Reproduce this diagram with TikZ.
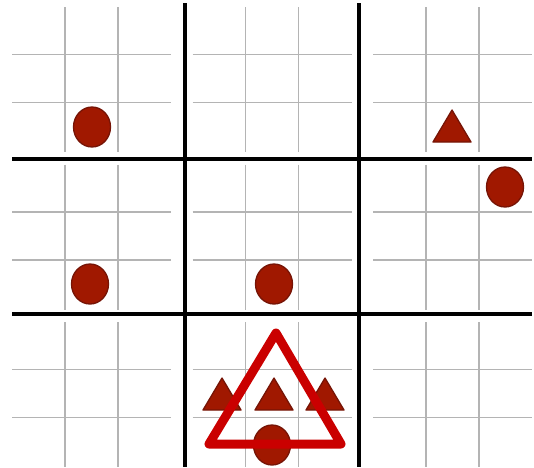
\documentclass[tikz,border=0pt]{standalone}
\usetikzlibrary{shapes.geometric}
\definecolor{gridgray}{RGB}{180,180,180}
\definecolor{piecefill}{RGB}{160,24,0}
\definecolor{pieceedge}{RGB}{118,20,6}
\definecolor{bigred}{RGB}{202,0,0}
\tikzset{
  thinline/.style={draw=gridgray,line width=1.8pt},
  thickline/.style={draw=black,line width=4pt},
  disc/.style={ellipse,fill=piecefill,draw=pieceedge,line width=1.3pt,minimum width=37pt,minimum height=40pt,inner sep=0pt},
  tri/.style={fill=piecefill,draw=pieceedge,line width=1.3pt,line join=round},
  bigtri/.style={draw=bigred,line width=9pt,line join=round,line cap=round}
}
\begin{document}
\begin{tikzpicture}[x=1pt,y=-1pt]
\useasboundingbox (0,0) rectangle (534,467);
% thin grids
\foreach \i in {0,1,2}{
  \foreach \j in {0,1,2}{
    \pgfmathsetmacro{\xo}{12+180.5*\i}
    \pgfmathsetmacro{\yo}{7+157.5*\j}
    \draw[thinline] (\xo,\yo+47.5) -- ++(159,0);
    \draw[thinline] (\xo,\yo+95.5) -- ++(159,0);
    \draw[thinline] (\xo+53,\yo) -- ++(0,145);
    \draw[thinline] (\xo+106,\yo) -- ++(0,145);
  }
}
% thick lines
\draw[thickline] (185,3) -- (185,467);
\draw[thickline] (359,3) -- (359,467);
\draw[thickline] (12,158.5) -- (532,158.5);
\draw[thickline] (12,314) -- (532,314);
% discs
\node[disc] (d1) at (92,127) {};
\node[disc] (d2) at (505,187) {};
\node[disc] (d3) at (90,284) {};
\node[disc] (d4) at (274,284) {};
\node[disc] (d5) at (272,445) {};
% small triangles
\draw[tri] (452,110) -- (471,142) -- (433,142) -- cycle;
\draw[tri] (222,378) -- (241,410) -- (203,410) -- cycle;
\draw[tri] (274,378) -- (293,410) -- (255,410) -- cycle;
\draw[tri] (325,378) -- (344,410) -- (306,410) -- cycle;
% big outline triangle
\coordinate (ta) at (276,333);
\coordinate (tl) at (209,444);
\coordinate (tr) at (341,444);
\draw[bigtri] (ta) -- (tr) -- (tl) -- cycle;
\end{tikzpicture}
\end{document}
